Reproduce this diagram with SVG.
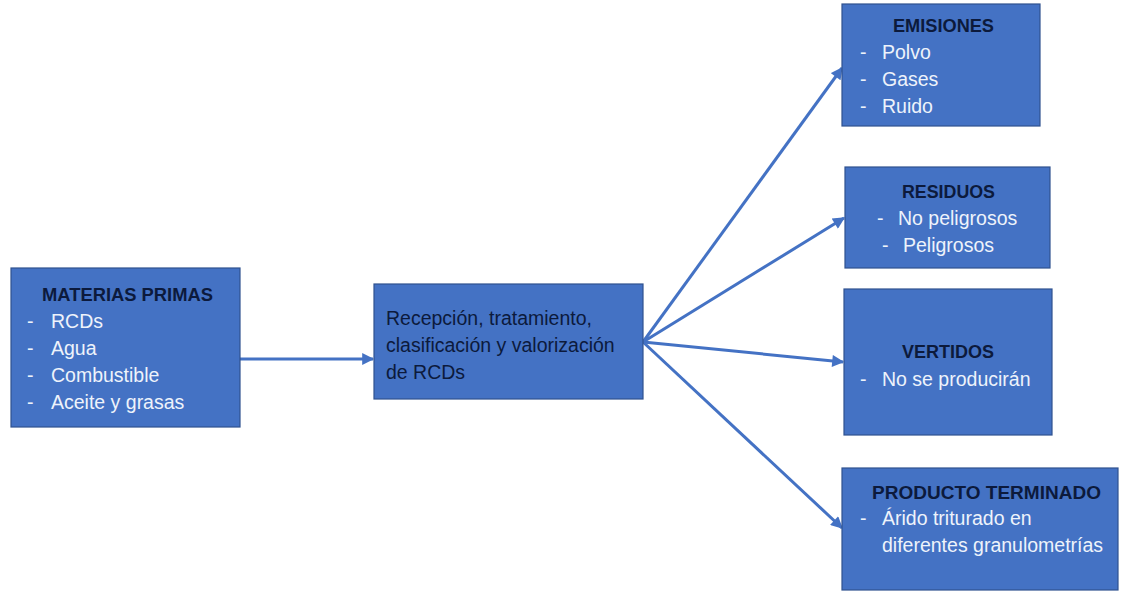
<svg xmlns="http://www.w3.org/2000/svg" width="1125" height="592" viewBox="0 0 1125 592">
<style>
.box{fill:#4472C4;stroke:#2F528F;stroke-width:1.2}
.h{font-family:"Liberation Sans",Arial,sans-serif;font-weight:bold;font-size:19px;fill:#0C1A3C}
.it{font-family:"Liberation Sans",Arial,sans-serif;font-size:19.5px;fill:#EEF3FB}
.c{font-family:"Liberation Sans",Arial,sans-serif;font-size:19.5px;fill:#0C1A3C}
.ln{stroke:#4472C4;stroke-width:3;fill:none;marker-end:url(#ah)}
</style>
<defs>
<marker id="ah" viewBox="0 0 10 10" refX="9" refY="5" markerWidth="4.5" markerHeight="4" orient="auto" markerUnits="strokeWidth">
<path d="M0,0 L10,5 L0,10 z" fill="#4472C4"/>
</marker>
</defs>
<rect width="1125" height="592" fill="#FFFFFF"/>
<g id="connectors">
<line class="ln" x1="240" y1="359" x2="373" y2="359"/>
<line class="ln" x1="643" y1="342" x2="842" y2="68"/>
<line class="ln" x1="643" y1="342" x2="844" y2="218"/>
<line class="ln" x1="643" y1="342" x2="843" y2="362"/>
<line class="ln" x1="643" y1="342" x2="842" y2="528"/>
</g>
<g id="materias">
<rect class="box" x="11" y="268" width="229" height="159"/>
<text class="h" x="42" y="301" textLength="171" lengthAdjust="spacingAndGlyphs">MATERIAS PRIMAS</text>
<text class="it" x="27" y="328">-</text><text class="it" x="51" y="328">RCDs</text>
<text class="it" x="27" y="355">-</text><text class="it" x="51" y="355">Agua</text>
<text class="it" x="27" y="382">-</text><text class="it" x="51" y="382">Combustible</text>
<text class="it" x="27" y="409">-</text><text class="it" x="51" y="409">Aceite y grasas</text>
</g>
<g id="proceso">
<rect class="box" x="374" y="284" width="269" height="115"/>
<text class="c" x="386" y="325">Recepción, tratamiento,</text>
<text class="c" x="386" y="352">clasificación y valorización</text>
<text class="c" x="386" y="379">de RCDs</text>
</g>
<g id="emisiones">
<rect class="box" x="842" y="4" width="198" height="122"/>
<text class="h" x="893" y="32" textLength="101" lengthAdjust="spacingAndGlyphs">EMISIONES</text>
<text class="it" x="860" y="59">-</text><text class="it" x="882" y="59">Polvo</text>
<text class="it" x="860" y="86">-</text><text class="it" x="882" y="86">Gases</text>
<text class="it" x="860" y="113">-</text><text class="it" x="882" y="113">Ruido</text>
</g>
<g id="residuos">
<rect class="box" x="845" y="167" width="205" height="101"/>
<text class="h" x="902" y="198" textLength="93" lengthAdjust="spacingAndGlyphs">RESIDUOS</text>
<text class="it" x="877" y="225">-</text><text class="it" x="898" y="225">No peligrosos</text>
<text class="it" x="882" y="252">-</text><text class="it" x="903" y="252">Peligrosos</text>
</g>
<g id="vertidos">
<rect class="box" x="844" y="289" width="208" height="146"/>
<text class="h" x="902" y="358" textLength="92" lengthAdjust="spacingAndGlyphs">VERTIDOS</text>
<text class="it" x="860" y="386">-</text><text class="it" x="882" y="386">No se producirán</text>
</g>
<g id="producto">
<rect class="box" x="842" y="468" width="276" height="122"/>
<text class="h" x="872" y="499" textLength="229" lengthAdjust="spacingAndGlyphs">PRODUCTO TERMINADO</text>
<text class="it" x="860" y="525">-</text><text class="it" x="882" y="525">Árido triturado en</text>
<text class="it" x="882" y="552">diferentes granulometrías</text>
</g>
</svg>
